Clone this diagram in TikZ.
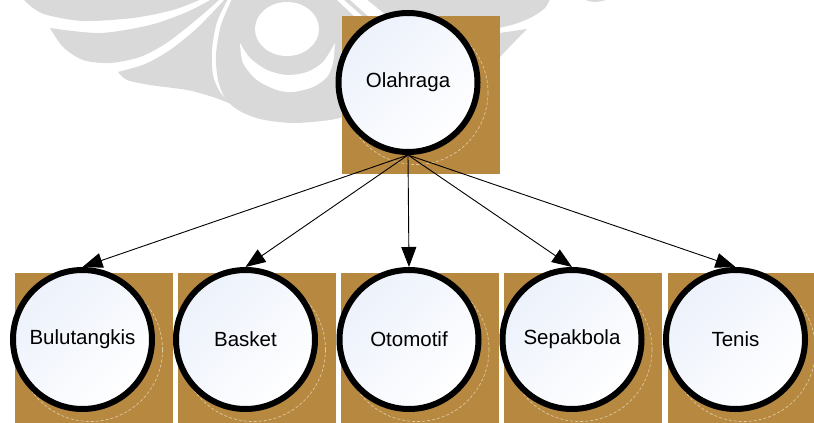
\documentclass[tikz,border=0pt]{standalone}
\usepackage{fontspec}
\setmainfont{Liberation Sans}
\usetikzlibrary{arrows.meta,calc}
\definecolor{boxbrown}{RGB}{182,136,64}
\definecolor{discblue}{RGB}{236,241,251}
\definecolor{ghostline}{RGB}{222,200,158}
\definecolor{wmgray}{RGB}{217,217,217}
\tikzset{
  topic/.style={circle, draw=black, line width=6pt, minimum size=139pt, inner sep=0pt,
    top color=discblue, bottom color=white, shading angle=45,
    font=\fontsize{20.5}{24}\selectfont},
  link/.style={draw=black, line width=0.9pt, -{Triangle[length=20pt,width=15pt]}},
  backsquare/.style={fill=boxbrown},
  ghostring/.style={draw=ghostline, line width=0.7pt, dash pattern=on 3pt off 2pt},
  wmshape/.style={fill=wmgray},
  wmgap/.style={fill=white},
}
\begin{document}
\begin{tikzpicture}[x=1pt,y=-1pt]
\useasboundingbox (0,0) rectangle (814,423);
\clip (0,0) rectangle (814,423);

% ---- faint emblem in the page background ----
\fill[wmshape] plot[smooth] coordinates {(23,-1) (33,8) (47,15) (83,21) (133,18) (173,10) (202,-1)} -- cycle;
\fill[wmshape] plot[smooth] coordinates {(212,-1) (187,12) (150,25) (100,33) (50,28)}
  -- plot[smooth] coordinates {(50,28) (63,47) (83,60) (110,63) (140,57) (165,44) (190,25) (210,8) (220,-1)} -- cycle;
\fill[wmshape] plot[smooth] coordinates {(118,72) (145,64) (170,50) (195,30) (213,12) (225,-1)}
  -- (228,-1)
  -- plot[smooth] coordinates {(228,-1) (217,22) (212,50) (213,75) (220,92) (231,104)}
  -- plot[smooth] coordinates {(231,104) (213,97) (187,90) (150,85) (127,80) (118,72)} -- cycle;
\fill[wmshape] plot[smooth] coordinates {(232,-1) (221,25) (216,55) (218,80) (225,98) (238,110) (260,119) (293,123) (330,120) (350,115)}
  -- (400,120) -- (499,70)
  -- plot[smooth] coordinates {(499,28) (515,24) (532,17) (545,8) (550,-1)} -- cycle;
\fill[wmshape] (499,33) -- (527,29) .. controls (520,36) .. (499,58) -- cycle;
\fill[wmshape] plot[smooth] coordinates {(582,-1) (595,2) (610,-1)} -- cycle;
% openings inside the emblem
\fill[wmgap] (287,29) ellipse[x radius=32, y radius=27];
\fill[wmgap] plot[smooth] coordinates {(240,43) (243,63) (257,80) (277,90) (293,92) (313,87) (327,77) (333,63) (335,43)}
  -- plot[smooth] coordinates {(335,43) (323,62) (307,72) (287,75) (267,70) (250,58) (240,43)} -- cycle;
\fill[wmgap] (336,-1) -- (343,-1) -- (362,16) -- (354,16) -- cycle;
\fill[wmgap] (349,-1) -- (366,-1) -- (387,16) -- (368,16) -- cycle;

% ---- centres of the topic discs ----
\coordinate (cO) at (408,82.5);
\coordinate (cB) at (82.5,339.5);
\coordinate (cK) at (245.5,339.5);
\coordinate (cT) at (409,339.5);
\coordinate (cS) at (572,339.5);
\coordinate (cN) at (735.5,339.5);

% brown backing squares
\fill[backsquare] ($(cO)+(-66,-66.5)$) rectangle ++(158,158);
\foreach \c in {cB,cK,cT,cS,cN}
  \fill[backsquare] ($(\c)+(-68,-66.5)$) rectangle ++(158,158);

% dashed rings offset behind each disc
\foreach \c in {cO,cB,cK,cT,cS,cN}
  \draw[ghostring] ($(\c)+(8,10)$) circle[radius=72];

% discs
\node[topic] (olah) at (cO) {Olahraga};
\node[topic] (bulu) at (cB) {Bulutangkis};
\node[topic] (bask) at (cK) {Basket};
\node[topic] (otom) at (cT) {Otomotif};
\node[topic] (sepa) at (cS) {Sepakbola};
\node[topic] (teni) at (cN) {Tenis};

% connectors
\foreach \t in {bulu,bask,otom,sepa,teni}
  \draw[link] (olah.south) -- (\t.north);
\end{tikzpicture}
\end{document}
